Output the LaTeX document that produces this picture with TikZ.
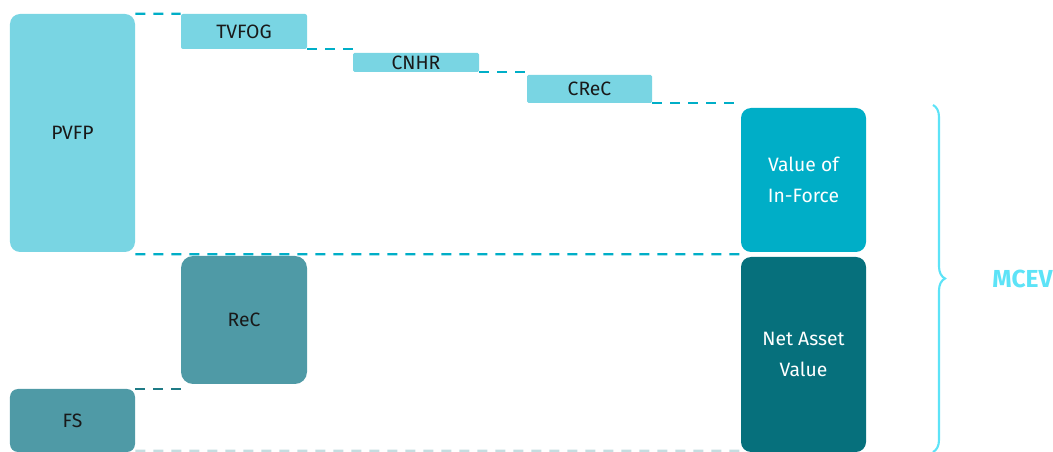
\documentclass[tikz,border=0pt]{standalone}
\usepackage{fontspec}
\setmainfont{Fira Sans}
\usetikzlibrary{decorations.pathreplacing}

\definecolor{lightteal}{HTML}{79D5E3}
\definecolor{vifcol}{HTML}{00AEC7}
\definecolor{navcol}{HTML}{06707C}
\definecolor{midteal}{HTML}{4F9AA6}
\definecolor{darkdash}{HTML}{1F7B86}
\definecolor{greydash}{HTML}{C5DDE0}
\definecolor{bracecol}{HTML}{5DE3F7}

\tikzset{
  block/.style={fill=#1, inner sep=0pt, align=center, text=black!90,
    font=\fontsize{11}{17.5}\selectfont},
  link/.style={dash pattern=on 0.2cm off 0.16cm, line width=1.3pt, draw=#1}
}

\begin{document}
\begin{tikzpicture}
  \useasboundingbox (0,0) rectangle (21.06,-9.04);

  \node[block=lightteal, minimum width=2.5cm, minimum height=4.76cm, rounded corners=0.2cm] (pvfp) at (1.45,-2.66) {PVFP};
  \node[block=lightteal, minimum width=2.52cm, minimum height=0.7cm, rounded corners=0.04cm] (tvfog) at (4.88,-0.63) {TVFOG};
  \node[block=lightteal, minimum width=2.52cm, minimum height=0.38cm, rounded corners=0.03cm] (cnhr) at (8.32,-1.25) {CNHR};
  \node[block=lightteal, minimum width=2.5cm, minimum height=0.56cm, rounded corners=0.03cm] (crec) at (11.79,-1.78) {CReC};
  \node[block=vifcol, text=white, minimum width=2.5cm, minimum height=2.88cm, rounded corners=0.2cm] (vif) at (16.07,-3.6) {Value of\\In-Force};
  \node[block=navcol, text=white, minimum width=2.5cm, minimum height=3.9cm, rounded corners=0.2cm] (nav) at (16.07,-7.09) {Net Asset\\Value};
  \node[block=midteal, minimum width=2.52cm, minimum height=2.56cm, rounded corners=0.24cm] (rec) at (4.88,-6.4) {ReC};
  \node[block=midteal, minimum width=2.5cm, minimum height=1.26cm, rounded corners=0.16cm] (fs) at (1.45,-8.41) {FS};

  \draw[link=vifcol] (pvfp.north east) -- (tvfog.north west);
  \draw[link=vifcol] (tvfog.south east) -- (tvfog.south east -| cnhr.west);
  \draw[link=vifcol] (cnhr.south east) -- (cnhr.south east -| crec.west);
  \draw[link=vifcol] (crec.south east) -- (crec.south east -| vif.west);
  \draw[link=vifcol] ([yshift=-0.04cm]pvfp.south east) -- ([yshift=-0.04cm]vif.south west);
  \draw[link=darkdash] (fs.north east) -- (fs.north east -| rec.west);
  \draw[link=greydash] ([yshift=0.03cm]fs.south east) -- ([yshift=0.03cm]nav.south west);

  \draw[decorate, decoration={brace, amplitude=0.24cm}, draw=bracecol, line width=1.2pt]
    (18.66,-2.1) -- (18.66,-9.04) node[midway, right=1.05cm, text=bracecol, font=\fontsize{14}{16}\selectfont\bfseries] (mcev) {MCEV};
\end{tikzpicture}
\end{document}
